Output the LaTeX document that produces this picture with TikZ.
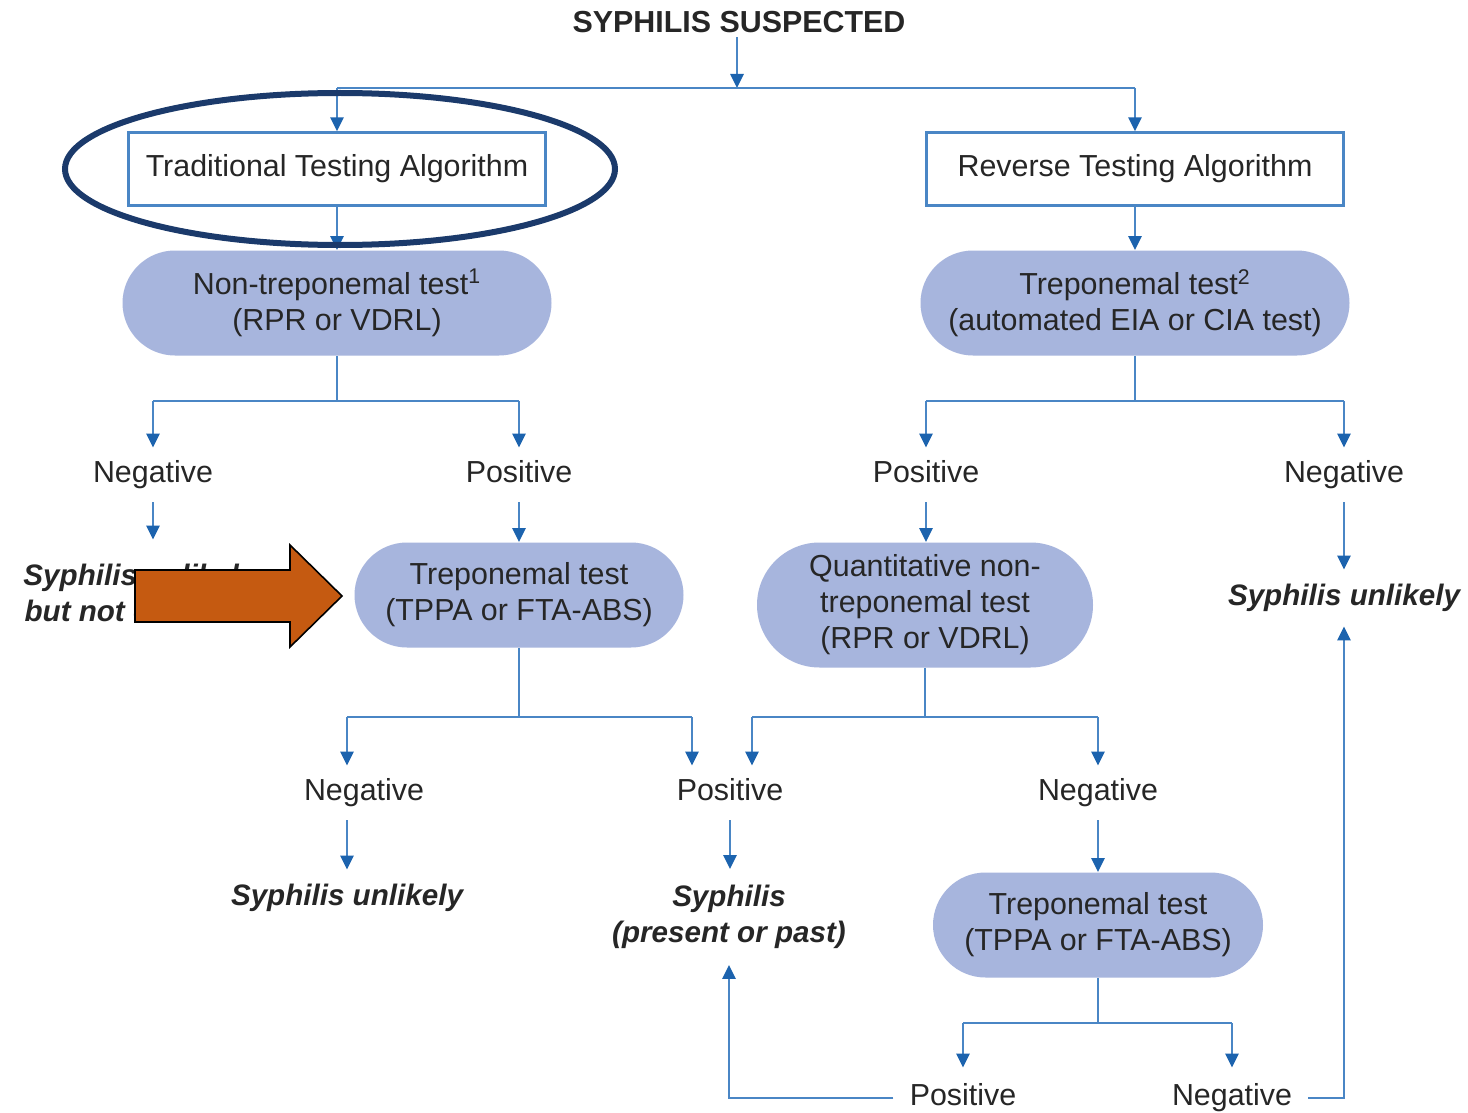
\documentclass[tikz,border=0pt]{standalone}
\usepackage{fontspec}
\setmainfont{Liberation Sans}
\usetikzlibrary{arrows.meta,shapes.misc}
\definecolor{lineblue}{HTML}{4A86C5}
\definecolor{tipblue}{HTML}{1C63AE}
\definecolor{pillfill}{HTML}{A7B5DD}
\definecolor{ink}{HTML}{262626}
\definecolor{navy}{HTML}{1B3A6B}
\definecolor{rust}{HTML}{C55A11}

\begin{document}
\begin{tikzpicture}[x=0.5pt,y=-0.5pt,
  every node/.style={font=\fontsize{15.2}{18}\selectfont, text=ink},
  conn/.style={draw=lineblue, line width=1.3pt},
  arr/.style={conn, -{Triangle[length=7pt,width=6.5pt,color=tipblue]}},
  heading/.style={font=\bfseries\fontsize{15.2}{18}\selectfont, inner sep=2pt},
  algbox/.style={draw=lineblue, line width=1.2pt, fill=white, minimum width=208.5pt, minimum height=36.5pt, inner sep=0pt},
  pill/.style={rounded rectangle, fill=pillfill, align=center, inner sep=0pt, minimum height=52.5pt},
  lbl/.style={text height=10.5pt, text depth=3pt, inner ysep=0pt, inner xsep=8pt, minimum height=27pt},
  result/.style={font=\bfseries\itshape\fontsize{14.8}{18}\selectfont, align=center, inner sep=0pt}]

\useasboundingbox (0,0) rectangle (1468,1113);
\fill[white] (0,0) rectangle (1468,1113);

% ---- top ----
\node[heading] (title) at (739,22) {SYPHILIS SUSPECTED};
\coordinate (split) at (737,88);
\node[algbox] (trad) at (337,169) {Traditional Testing Algorithm};
\node[algbox] (rev) at (1135,169) {Reverse Testing Algorithm};

\draw[arr] (title.south -| split) -- (split);
\draw[conn] (trad.north |- split) -- (rev.north |- split);
\draw[arr] (trad.north |- split) -- (trad.north);
\draw[arr] (rev.north |- split) -- (rev.north);

% ---- first tests ----
\node[pill, minimum width=214.5pt] (nontrep) at (337,303) {Non-treponemal test\textsuperscript{1}\\(RPR or VDRL)};
\node[pill, minimum width=214.5pt] (trepA) at (1135,303) {Treponemal test\textsuperscript{2}\\(automated EIA or CIA test)};
\draw[arr] (trad.south) -- (nontrep.north);
\draw[arr] (rev.south) -- (trepA.north);

% ---- traditional branch ----
\coordinate (b1) at (337,401);
\node[lbl] (neg1) at (153,475) {Negative};
\node[lbl] (pos1) at (519,475) {Positive};
\draw[conn] (nontrep.south) -- (b1);
\draw[conn] (neg1.north |- b1) -- (pos1.north |- b1);
\draw[arr] (neg1.north |- b1) -- (neg1.north);
\draw[arr] (pos1.north |- b1) -- (pos1.north);

\node[result, minimum height=53pt] (unl1) at (143,593) {Syphilis unlikely,\\but not excluded};
\draw[arr] (neg1.south) -- (neg1.south |- unl1.north);

\node[pill, minimum width=164.5pt] (trepL) at (519,595) {Treponemal test\\(TPPA or FTA-ABS)};
\draw[arr] (pos1.south) -- (trepL.north);

\coordinate (b2) at (519,717);
\coordinate (jL) at (692,717);
\node[lbl] (neg2) at (364,793) {Negative};
\node[lbl] (pos2) at (730,793) {Positive};
\node[result, minimum height=28pt] (unl2) at (347,898) {Syphilis unlikely};
\draw[conn] (trepL.south) -- (b2);
\draw[conn] (b2 -| unl2) -- (jL);
\draw[arr] (b2 -| unl2) -- (unl2 |- neg2.north);
\draw[arr] (jL) -- (jL |- pos2.north);
\draw[arr] (unl2 |- neg2.south) -- (unl2.north);

\node[result, minimum height=47.5pt] (syph) at (729,917) {Syphilis\\(present or past)};
\draw[arr] (pos2.south) -- (pos2.south |- syph.north);

% ---- reverse branch ----
\coordinate (b3) at (1135,401);
\node[lbl] (pos3) at (926,475) {Positive};
\node[lbl] (neg3) at (1344,475) {Negative};
\draw[conn] (trepA.south) -- (b3);
\draw[conn] (pos3.north |- b3) -- (neg3.north |- b3);
\draw[arr] (pos3.north |- b3) -- (pos3.north);
\draw[arr] (neg3.north |- b3) -- (neg3.north);

\node[pill, minimum width=168pt, minimum height=62.5pt] (quant) at (925,605) {Quantitative non-\\treponemal test\\(RPR or VDRL)};
\draw[arr] (pos3.south) -- (pos3.south |- quant.north);

\node[result, minimum height=28pt] (unl3) at (1344,598) {Syphilis unlikely};
\draw[arr] (neg3.south) -- (unl3.north);

\coordinate (b4) at (925,717);
\coordinate (jR) at (752,717);
\node[lbl] (neg4) at (1098,793) {Negative};
\draw[conn] (quant.south) -- (b4);
\draw[conn] (jR) -- (neg4.north |- b4);
\draw[arr] (jR) -- (jR |- pos2.north);
\draw[arr] (neg4.north |- b4) -- (neg4.north);

\node[pill, minimum width=165pt] (trepB) at (1098,925) {Treponemal test\\(TPPA or FTA-ABS)};
\draw[arr] (neg4.south) -- (trepB.north);

\coordinate (b5) at (1098,1023);
\node[lbl, minimum height=30pt] (pos5) at (963,1098) {Positive};
\node[lbl, minimum height=30pt] (neg5) at (1232,1098) {Negative};
\draw[conn] (trepB.south) -- (b5);
\draw[conn] (pos5.north |- b5) -- (neg5.north |- b5);
\draw[arr] (pos5.north |- b5) -- (pos5.north);
\draw[arr] (neg5.north |- b5) -- (neg5.north);

% ---- loops back up ----
\draw[arr] (pos5.west) -| (syph.south);
\draw[arr] (neg5.east) -| (unl3.south);

% ---- highlight ellipse and pointer arrow ----
\draw[navy, line width=3pt] (340,169) ellipse [x radius=275, y radius=76];
\filldraw[fill=rust, draw=black, line width=0.8pt]
  (135,570) -- (290,570) -- (290,545) -- (342,596) -- (290,647) -- (290,622) -- (135,622) -- cycle;

\end{tikzpicture}
\end{document}
